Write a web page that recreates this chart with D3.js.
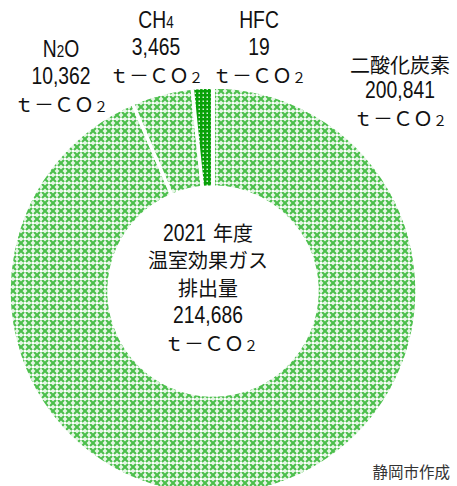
<!DOCTYPE html>
<html>
<head>
<meta charset="utf-8">
<script src="https://cdn.jsdelivr.net/npm/d3@7"></script>
<style>
  html, body { margin: 0; padding: 0; background: #fff; }
  svg { display: block; }
</style>
</head>
<body>
<svg id="chart" width="457" height="486"></svg>
<script>
// Greenhouse gas emissions by gas, FY2021 (t-CO2)
const gasNames = ["二酸化炭素", "N2O", "CH4", "HFC"];
const gasValues = [200841, 10362, 3465, 19];
const totalLabel = "214,686";
const yearLabel = "2021";
const yearSuffix = "年度";
const centerLines = ["温室効果ガス", "排出量"];
const unitLabel = "ｔ－ＣＯ２";
const sourceLabel = "静岡市作成";

const W = 457, H = 486;
const cx = 213, cy = 291, outerR = 204, innerR = 104;

const latinFont = "'Liberation Sans', Arial, sans-serif";
const cjkFont = "'Noto Sans CJK JP', 'Noto Sans', sans-serif";
const narrow = 0.84;   // horizontal squeeze for the Latin/number lines

const svg = d3.select("#chart");
svg.append("rect").attr("width", W).attr("height", H).attr("fill", "#fff");

const defs = svg.append("defs");

// light green diamond lattice
const lat = defs.append("pattern").attr("id", "lattice")
  .attr("patternUnits", "userSpaceOnUse").attr("width", 8).attr("height", 8);
lat.append("rect").attr("width", 8).attr("height", 8).attr("fill", "#e6f6e6");
lat.append("path")
  .attr("d", "M-2,-2 L10,10 M10,-2 L-2,10 M-2,6 L2,10 M6,-2 L10,2 M6,10 L10,6 M-2,2 L2,-2")
  .attr("stroke", "#4cbf4c").attr("stroke-width", 2.2).attr("fill", "none");
lat.append("rect").attr("x", 3).attr("y", 3).attr("width", 2).attr("height", 2).attr("fill", "#fff");
lat.append("rect").attr("x", 3.5).attr("y", 1.5).attr("width", 1).attr("height", 5).attr("fill", "#fff");
lat.append("rect").attr("x", 1.5).attr("y", 3.5).attr("width", 5).attr("height", 1).attr("fill", "#fff");

// dark green with white dots
const dots = defs.append("pattern").attr("id", "dots")
  .attr("patternUnits", "userSpaceOnUse").attr("width", 4).attr("height", 4);
dots.append("rect").attr("width", 4).attr("height", 4).attr("fill", "#09a109");
dots.append("rect").attr("x", 1.5).attr("y", 1.5).attr("width", 1.5).attr("height", 1.5).attr("fill", "#d9f2d9");

// diagonal hatching
const hatch = defs.append("pattern").attr("id", "hatch")
  .attr("patternUnits", "userSpaceOnUse").attr("width", 6).attr("height", 6);
hatch.append("rect").attr("width", 6).attr("height", 6).attr("fill", "#fff");
hatch.append("path").attr("d", "M-1,7 L7,-1 M-1,1 L1,-1 M5,7 L7,5")
  .attr("stroke", "#4cbf4c").attr("stroke-width", 2).attr("fill", "none");

const fills = ["url(#lattice)", "url(#lattice)", "url(#dots)", "url(#hatch)"];

const pie = d3.pie().sort(null).startAngle(0).endAngle(2 * Math.PI);
const arc = d3.arc().innerRadius(innerR).outerRadius(outerR);

const g = svg.append("g").attr("transform", `translate(${cx},${cy})`);
g.selectAll("path.slice")
  .data(pie(gasValues))
  .join("path")
  .attr("class", "slice")
  .attr("d", arc)
  .attr("fill", (d, i) => fills[i])
  .attr("stroke", "#fff")
  .attr("stroke-width", 3.5)
  .attr("stroke-linejoin", "round");

// Latin text squeezed horizontally around its anchor point
function latinText(parent, x, y, anchor) {
  return parent.append("text")
    .attr("transform", `translate(${x},${y}) scale(${narrow},1)`)
    .attr("text-anchor", anchor || "middle")
    .attr("font-family", latinFont).attr("font-size", 23);
}

// draws a name that may carry a small subscript digit
function nameText(parent, x, y, name) {
  const m = name.match(/^([A-Z]+)(\d)(.*)$/);
  if (m) {
    const t = latinText(parent, x, y);
    t.append("tspan").text(m[1]);
    t.append("tspan").attr("font-size", 16).text(m[2]);
    if (m[3]) t.append("tspan").text(m[3]);
  } else if (/^[A-Z]+$/.test(name)) {
    latinText(parent, x, y).text(name);
  } else {
    parent.append("text").attr("x", x).attr("y", y).attr("text-anchor", "middle")
      .attr("font-family", cjkFont).attr("font-size", 20).text(name);
  }
}

function unitText(parent, x, y) {
  const t = parent.append("text").attr("x", x).attr("y", y).attr("text-anchor", "middle")
    .attr("font-family", cjkFont).attr("font-size", 20);
  t.append("tspan").text(unitLabel.slice(0, -1));
  t.append("tspan").attr("font-size", 14).text(unitLabel.slice(-1));
}

const fmt = d3.format(",");
const labelLayout = [
  { x: 400, y: [73, 98, 126] },
  { x: 61, y: [57, 84, 112] },
  { x: 156, y: [28, 55, 83] },
  { x: 259, y: [28, 55, 83] }
];

gasNames.forEach((name, i) => {
  const L = labelLayout[i];
  const lg = svg.append("g").attr("fill", "#111");
  nameText(lg, L.x, L.y[0], name);
  latinText(lg, L.x, L.y[1]).text(fmt(gasValues[i]));
  unitText(lg, L.x, L.y[2]);
});

// center text
const ct = svg.append("g").attr("fill", "#111");
latinText(ct, 206, 241, "end").text(yearLabel);
ct.append("text").attr("x", 213).attr("y", 241)
  .attr("font-family", cjkFont).attr("font-size", 20).text(yearSuffix);
centerLines.forEach((s, i) => {
  ct.append("text").attr("x", 208).attr("y", 268 + i * 28).attr("text-anchor", "middle")
    .attr("font-family", cjkFont).attr("font-size", 20).text(s);
});
latinText(ct, 208, 323).text(totalLabel);
unitText(ct, 211, 351);

svg.append("text").attr("x", 450).attr("y", 478).attr("text-anchor", "end")
  .attr("font-family", cjkFont).attr("font-size", 15.5).attr("fill", "#333")
  .text(sourceLabel);
</script>
</body>
</html>
